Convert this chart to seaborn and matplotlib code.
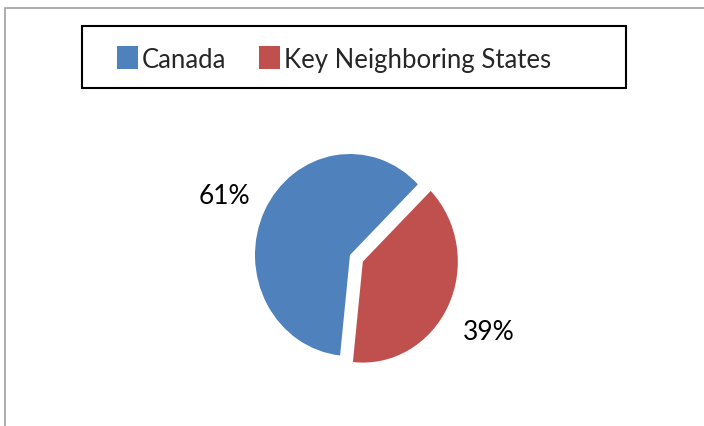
import matplotlib
matplotlib.use("Agg")
import matplotlib.pyplot as plt
import matplotlib.transforms as mtransforms
import seaborn as sns
from matplotlib.patches import Rectangle, Patch

sns.set_theme(style="white")

categories = ["Canada", "Key Neighboring States"]
shares = [61, 39]
colors = ["#4F81BD", "#C0504D"]

plt.rcParams["font.family"] = ["Lato", "DejaVu Sans"]

W, H = 704, 427
fig = plt.figure(figsize=(W / 100, H / 100), dpi=100)
fig.patch.set_facecolor("white")

# outer chart border
fig.add_artist(Rectangle((5 / W, -0.05), 1.1, 1 - 9 / H + 0.05, transform=fig.transFigure,
                         fill=False, edgecolor="#A0A0A0", linewidth=1.2))
# legend frame
fig.add_artist(Rectangle((82 / W, 1 - 89 / H), (626 - 82) / W, 62 / H, transform=fig.transFigure,
                         fill=False, edgecolor="black", linewidth=1.5))

cx, cy = 350, H - 256
aw, ah = 300, 300
ax = fig.add_axes([(cx - aw / 2) / W, (cy - ah / 2) / H, aw / W, ah / H])

wedges, texts, autotexts = ax.pie(
    shares, colors=colors, startangle=264, counterclock=False,
    explode=[0, 0.15], radius=1.0, autopct="%d%%", pctdistance=1.47,
    wedgeprops=dict(linewidth=0), textprops=dict(fontsize=19, color="black"),
)
ax.set_aspect("auto")
ax.set_xlim(-(aw / 2) / 95, (aw / 2) / 95)
ax.set_ylim(-(ah / 2) / 101, (ah / 2) / 101)
ax.set_axis_off()
for t in autotexts:
    t.set_transform(mtransforms.offset_copy(ax.transData, fig=fig, x=0, y=-5, units="dots"))

handles = [Patch(facecolor=c, edgecolor="none") for c in colors]
leg = fig.legend(handles, categories, loc="center left", bbox_to_anchor=(117 / W, 1 - 60 / H),
                 ncol=2, frameon=False, fontsize=18.5,
                 handlelength=0.8, handleheight=1.0, handletextpad=0.15,
                 columnspacing=1.3, borderpad=0, borderaxespad=0)

fig.savefig("out.png", dpi=100, facecolor="white")
